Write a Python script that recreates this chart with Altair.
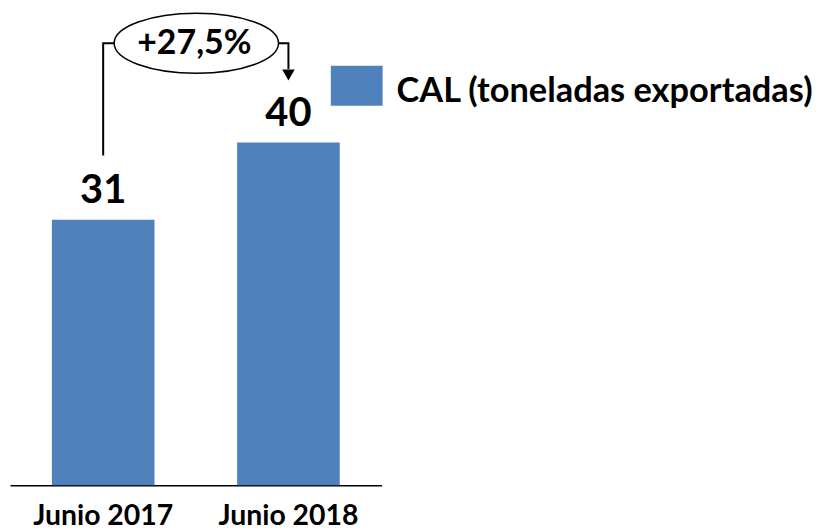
import altair as alt
import pandas as pd

# ---- data ----
periodos = ["Junio 2017", "Junio 2018"]
valores = [31, 40]
serie = "CAL (toneladas exportadas)"
variacion = "+27,5%"

# connector path (data units)
conn_periodo = ["Junio 2017", "Junio 2017", "Junio 2018", "Junio 2018"]
conn_valor = [38.5, 51.6, 51.6, 48.6]
conn_orden = [0, 1, 2, 3]
flecha_valor = [47.9]
elipse_valor = [51.6]

FONT = "Lato"
BLUE = "#4F81BD"

df = pd.DataFrame({"periodo": periodos, "valor": valores, "serie": [serie] * 2})
df_conn = pd.DataFrame({"periodo": conn_periodo, "valor": conn_valor, "orden": conn_orden})
df_arrow = pd.DataFrame({"periodo": ["Junio 2018"], "valor": flecha_valor})
df_ell = pd.DataFrame({"a": ["Junio 2017"], "valor": elipse_valor, "txt": [variacion]})

# ellipse outline as cubic Beziers (rx = 1, ry = r)
r = 0.365
k = 0.5523
kr = k * r
ELLIPSE = (f"M-1,0C-1,{-kr:.4f} {-k},{-r} 0,{-r}C{k},{-r} 1,{-kr:.4f} 1,0"
           f"C1,{kr:.4f} {k},{r} 0,{r}C{-k},{r} -1,{kr:.4f} -1,0Z")

xscale = alt.Scale(domain=periodos, paddingInner=0.446, paddingOuter=0.226)
yscale = alt.Scale(domain=[0, 55.6], nice=False, zero=True)

x = alt.X("periodo:N", scale=xscale, sort=periodos, title=None,
          axis=alt.Axis(labelAngle=0, ticks=False, domainColor="black", domainWidth=1.5,
                        labelFont=FONT, labelFontSize=28.5, labelFontWeight="bold",
                        labelColor="black", labelPadding=16))
y = alt.Y("valor:Q", scale=yscale, axis=None)

bars = alt.Chart(df).mark_bar(size=103).encode(
    x=x, y=y,
    color=alt.Color("serie:N", scale=alt.Scale(range=[BLUE]),
                    legend=alt.Legend(title=None, orient="none", legendX=322, legendY=57,
                                      padding=0,
                                      symbolType="M-1,-1H1V0.54H-1Z", symbolSize=2704,
                                      symbolStrokeWidth=0, symbolOpacity=1,
                                      labelFont=FONT, labelFontSize=34.5, labelFontWeight="bold",
                                      labelColor="black", labelOffset=14, labelLimit=700)),
)

labels = alt.Chart(df).mark_text(font=FONT, fontSize=40, fontWeight="bold", color="black",
                                 baseline="bottom", dy=-9).encode(
    x=alt.X("periodo:N", scale=xscale, sort=periodos), y=y, text="valor:Q")

conn = alt.Chart(df_conn).mark_line(color="black", strokeWidth=2, interpolate="linear").encode(
    x=alt.X("periodo:N", scale=xscale, sort=periodos), y=y, order="orden:Q")

arrow = alt.Chart(df_arrow).mark_point(shape="triangle-down", filled=True, color="black",
                                       size=160, opacity=1).encode(
    x=alt.X("periodo:N", scale=xscale, sort=periodos), y=y)

ellipse = alt.Chart(df_ell).mark_point(
    shape=ELLIPSE, size=27225, filled=False,
    fill="white", fillOpacity=1, stroke="black", strokeWidth=1.5, opacity=1,
    xOffset=42).encode(
    x=alt.X("a:N", scale=xscale, sort=periodos, bandPosition=1.0), y=y)

pct = alt.Chart(df_ell).mark_text(font=FONT, fontSize=34, fontWeight="bold", color="black",
                                  baseline="middle", align="center", dy=1, xOffset=40).encode(
    x=alt.X("a:N", scale=xscale, sort=periodos, bandPosition=1.0), y=y, text="txt:N")

chart = alt.layer(bars, labels, conn, arrow, ellipse, pct).properties(
    width=373, height=478,
    autosize=alt.AutoSizeParams(type="none"),
    padding={"left": 2, "top": 0, "right": 436, "bottom": 44},
).configure(background="white").configure_view(strokeWidth=0, stroke=None)

chart.save("out.html", embed_options={"renderer": "svg", "actions": False})
